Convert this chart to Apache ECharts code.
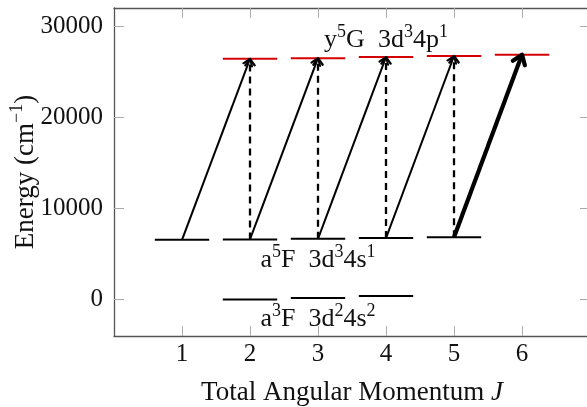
<!DOCTYPE html>
<html>
<head>
<meta charset="utf-8">
<script src="https://cdn.jsdelivr.net/npm/echarts@6/dist/echarts.min.js"></script>
<style>
  html, body { margin: 0; padding: 0; background: #fff; }
  #chart { width: 587px; height: 407px; }
</style>
</head>
<body>
<div id="chart"></div>
<script>
// energy levels (cm^-1) by total angular momentum J
const a3fJ = [2, 3, 4];
const a3fE = [0, 170, 387];
const a5fJ = [1, 2, 3, 4, 5];
const a5fE = [6557, 6599, 6661, 6743, 6843];
const y5gJ = [2, 3, 4, 5, 6];
const y5gE = [26420, 26490, 26610, 26730, 26880];

// transitions a5F(J) -> y5G(J')
const solidFrom = [1, 2, 3, 4];
const solidTo = [2, 3, 4, 5];
const strongFrom = [5];
const strongTo = [6];
const dashedFrom = [2, 3, 4, 5];
const dashedTo = [2, 3, 4, 5];

// term labels: which level (J) they sit on
const termNames = ['y5G', 'a5F', 'a3F'];
const termLabelJ = [4, 3, 3];
const termTexts = [
  '{n|y}{s|5}{n|G  3d}{s|3}{n|4p}{s|1}',
  '{n|a}{s|5}{n|F  3d}{s|3}{n|4s}{s|1}',
  '{n|a}{s|3}{n|F  3d}{s|2}{n|4s}{s|2}'
];

const xTicks = [1, 2, 3, 4, 5, 6];
const yTicks = [0, 10000, 20000, 30000];

const FONT = 'Liberation Serif';
const INK = '#111';
const levels = { a3F: [a3fJ, a3fE], a5F: [a5fJ, a5fE], y5G: [y5gJ, y5gE] };
function energy(term, j) {
  const l = levels[term];
  return l[1][l[0].indexOf(j)];
}

const rich = {
  n: { fontFamily: FONT, fontSize: 26, lineHeight: 30, verticalAlign: 'bottom', color: INK },
  s: { fontFamily: FONT, fontSize: 18, lineHeight: 18, verticalAlign: 'top', color: INK }
};

function levelSeries(js, es, color) {
  return {
    type: 'custom',
    silent: true,
    z: 2,
    data: js.map((j, i) => [j, es[i]]),
    renderItem: function (params, api) {
      const a = api.coord([api.value(0) - 0.4, api.value(1)]);
      const b = api.coord([api.value(0) + 0.4, api.value(1)]);
      return {
        type: 'line',
        shape: { x1: a[0], y1: a[1], x2: b[0], y2: b[1] },
        style: { stroke: color, lineWidth: 2 }
      };
    }
  };
}

function arrowSeries(from, to, width, dash, head) {
  return {
    type: 'custom',
    silent: true,
    z: 3,
    data: from.map((j, i) => [j, energy('a5F', j), to[i], energy('y5G', to[i])]),
    encode: { x: [0, 2], y: [1, 3] },
    renderItem: function (params, api) {
      const p = api.coord([api.value(0), api.value(1)]);
      const q = api.coord([api.value(2), api.value(3)]);
      const ang = Math.atan2(q[1] - p[1], q[0] - p[0]);
      const barb = s => [q[0] - head * Math.cos(ang + s * 0.62), q[1] - head * Math.sin(ang + s * 0.62)];
      const e = [q[0] - width * 0.8 * Math.cos(ang), q[1] - width * 0.8 * Math.sin(ang)];
      return {
        type: 'group',
        children: [
          { type: 'line', shape: { x1: p[0], y1: p[1], x2: e[0], y2: e[1] },
            style: { stroke: '#000', lineWidth: width, lineDash: dash } },
          { type: 'polyline', shape: { points: [barb(1), q, barb(-1)] },
            style: { stroke: '#000', fill: 'none', lineWidth: width, lineJoin: 'round', lineCap: 'round' } }
        ]
      };
    }
  };
}

const axisLine = { show: true, onZero: false, lineStyle: { color: '#555', width: 1.3 } };
const tickStyle = { color: '#aaa', width: 1 };
const tickFont = { fontFamily: FONT, fontSize: 25, color: INK, lineHeight: 30 };

const chart = echarts.init(document.getElementById('chart'));
chart.setOption({
  animation: false,
  grid: { left: 114, right: -3, top: 8, bottom: 71, containLabel: false, outerBoundsMode: 'none' },
  xAxis: [{
    type: 'value', min: 0, max: 7, position: 'bottom',
    axisLine: axisLine,
    axisTick: { show: true, inside: true, length: 10, customValues: xTicks, lineStyle: tickStyle },
    axisLabel: Object.assign({ customValues: xTicks, margin: 3, formatter: v => String(v) }, tickFont),
    splitLine: { show: false },
    name: '{n|Total Angular Momentum }{i|J}',
    nameLocation: 'middle', nameGap: 41, nameMoveOverlap: false,
    nameTextStyle: {
      fontFamily: FONT, fontSize: 27, color: INK,
      rich: {
        n: { fontFamily: FONT, fontSize: 27, lineHeight: 32, color: INK },
        i: { fontFamily: FONT, fontSize: 27, lineHeight: 32, fontStyle: 'italic', color: INK }
      }
    }
  }, {
    type: 'value', min: 0, max: 7, position: 'top',
    axisLine: axisLine,
    axisTick: { show: true, inside: true, length: 10, customValues: xTicks, lineStyle: tickStyle },
    axisLabel: { show: false },
    splitLine: { show: false }
  }],
  yAxis: [{
    type: 'value', min: -4000, max: 32000, position: 'left',
    axisLine: axisLine,
    axisTick: { show: true, inside: true, length: 10, customValues: yTicks, lineStyle: tickStyle },
    axisLabel: Object.assign({ customValues: yTicks, margin: 11, formatter: v => String(v) }, tickFont),
    splitLine: { show: false },
    name: '{n|Energy (cm}{s|\u22121}{n|)}',
    nameLocation: 'middle', nameGap: 75, nameMoveOverlap: false,
    nameTextStyle: {
      fontFamily: FONT, fontSize: 27, color: INK,
      rich: {
        n: { fontFamily: FONT, fontSize: 27, lineHeight: 31, padding: [3, 0, 0, 0], verticalAlign: 'bottom', color: INK },
        s: { fontFamily: FONT, fontSize: 18, lineHeight: 14, verticalAlign: 'top', color: INK }
      }
    }
  }, {
    type: 'value', min: -4000, max: 32000, position: 'right',
    axisLine: axisLine,
    axisTick: { show: true, inside: true, length: 10, customValues: yTicks, lineStyle: tickStyle },
    axisLabel: { show: false },
    splitLine: { show: false }
  }],
  series: [
    levelSeries(a3fJ, a3fE, '#000'),
    levelSeries(a5fJ, a5fE, '#000'),
    levelSeries(y5gJ, y5gE, '#d40000'),
    arrowSeries(dashedFrom, dashedTo, 2.3, [7, 5], 8),
    arrowSeries(solidFrom, solidTo, 2, null, 8),
    arrowSeries(strongFrom, strongTo, 4.2, null, 11),
    {
      type: 'scatter',
      symbolSize: 0,
      silent: true,
      z: 4,
      itemStyle: { color: INK, opacity: 1 },
      data: termNames.map((t, i) => ({
        value: [termLabelJ[i], energy(t, termLabelJ[i])],
        label: {
          show: true,
          position: t === 'y5G' ? 'top' : 'bottom',
          distance: 4,
          color: INK,
          textBorderWidth: 0,
          formatter: () => termTexts[i],
          rich: rich
        }
      }))
    }
  ]
});
</script>
</body>
</html>
